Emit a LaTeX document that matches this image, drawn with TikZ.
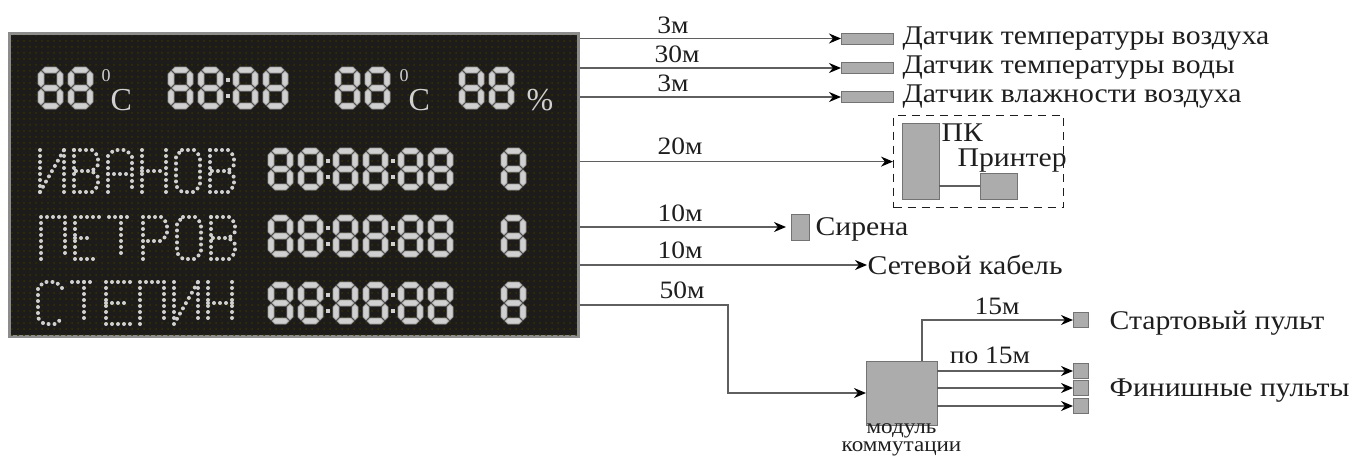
\documentclass[tikz,border=0pt]{standalone}
\usepackage{fontspec}
\setmainfont[FakeStretch=1.1]{Liberation Serif}
\newfontfamily\tablofont{Liberation Serif}
\usetikzlibrary{arrows.meta,positioning,calc,patterns}
\tikzset{every picture/.style={line width=0.6pt}}

\definecolor{panel}{RGB}{30,28,26}
\definecolor{rim}{RGB}{140,140,140}
\definecolor{segfill}{RGB}{208,208,208}
\definecolor{segline}{RGB}{150,150,150}
\definecolor{boxfill}{RGB}{172,172,172}
\definecolor{wirecol}{RGB}{95,95,95}
\definecolor{inkcol}{RGB}{30,30,30}

% семисегментная "8" и двоеточие
\tikzset{
  segment/.style={fill=segfill, draw=segline, line width=0.4pt},
  pics/seg8/.style={code={
    \foreach \sy in {3,21,39}
      \filldraw[segment] (4,\sy) -- (7,\sy-3) -- (18,\sy-3) -- (21,\sy) -- (18,\sy+3) -- (7,\sy+3) -- cycle;
    \foreach \sx in {3,22}
      \foreach \a/\b in {4/20, 22/38}
        \filldraw[segment] (\sx,\a) -- (\sx+3,\a+3) -- (\sx+3,\b-3) -- (\sx,\b) -- (\sx-3,\b-3) -- (\sx-3,\a+3) -- cycle;
  }},
  pics/segcolon/.style={code={
    \fill[segfill] (-2,11) rectangle (2,15);
    \fill[segfill] (-2,27) rectangle (2,31);
  }},
}

% точечные буквы
\newcommand{\dmI}{\draw[led] (0,0) -- (0,42); \draw[led] (24,0) -- (24,42); \draw[led] (0,42) -- (24,0);}
\newcommand{\dmV}{\draw[led] (0,0) -- (0,42) -- (18,42) -- (24,36) -- (24,27) -- (18,21) -- (0,21); \draw[led] (0,0) -- (18,0) -- (24,6) -- (24,15) -- (18,21);}
\newcommand{\dmA}{\draw[led] (0,42) -- (0,6) -- (6,0) -- (18,0) -- (24,6) -- (24,42); \draw[led] (0,24) -- (24,24);}
\newcommand{\dmN}{\draw[led] (0,0) -- (0,42); \draw[led] (24,0) -- (24,42); \draw[led] (0,21) -- (24,21);}
\newcommand{\dmO}{\draw[led] (6,0) -- (18,0) -- (24,6) -- (24,36) -- (18,42) -- (6,42) -- (0,36) -- (0,6) -- cycle;}
\newcommand{\dmP}{\draw[led] (0,42) -- (0,0) -- (24,0) -- (24,42);}
\newcommand{\dmE}{\draw[led] (24,0) -- (0,0) -- (0,42) -- (24,42); \draw[led] (0,21) -- (18,21);}
\newcommand{\dmT}{\draw[led] (0,0) -- (24,0); \draw[led] (12,0) -- (12,42);}
\newcommand{\dmR}{\draw[led] (0,42) -- (0,0) -- (18,0) -- (24,6) -- (24,18) -- (18,24) -- (0,24);}
\newcommand{\dmS}{\draw[led] (24,6) -- (18,0) -- (6,0) -- (0,6) -- (0,36) -- (6,42) -- (18,42) -- (24,36);}

\begin{document}
\begin{tikzpicture}[x=0.5pt, y=-0.5pt,
    wire/.style={draw=wirecol, line width=0.75pt},
    feed/.style={wire, -{Stealth[length=6pt, width=5pt, color=black]}},
    dev/.style={draw=black!55, fill=boxfill, line width=0.5pt, inner sep=0pt, outer sep=0pt},
    len/.style={font=\fontsize{12.5}{13}\selectfont, text=inkcol, inner sep=0pt, anchor=base},
    lbl/.style={font=\fontsize{13.5}{14}\selectfont, text=inkcol, inner sep=0pt, anchor=base west},
    led/.style={draw=segfill, line width=2pt, line cap=round, dash pattern=on 0pt off 3pt},
    tablotxt/.style={text=segfill, inner sep=0pt}]

    \useasboundingbox (0,0) rectangle (1360,461);

    % --- табло ---
    \node[draw=rim, line width=1.5pt, fill=panel, minimum width=284.5pt, minimum height=151.5pt,
          inner sep=0pt, anchor=north west] (tablo) at (8,32) {};
    \fill[pattern=dots, pattern color=black!60!olive] ([shift={(3,3)}]tablo.north west) rectangle ([shift={(-3,-3)}]tablo.south east);

    % верхняя строка: температура, время, вода, влажность
    \foreach \dx in {38,68,168,198,233,263,335,365,459,489}
        \pic at (\dx,67) {seg8};
    \pic at (228,67) {segcolon};
    \node[tablotxt, font=\tablofont\fontsize{9}{9}\selectfont, anchor=north west] (deg1) at (101,69) {0};
    \node[tablotxt, font=\tablofont\fontsize{16}{16}\selectfont, anchor=base west] (cel1) at (110,110) {C};
    \node[tablotxt, font=\tablofont\fontsize{9}{9}\selectfont, anchor=north west] (deg2) at (399,69) {0};
    \node[tablotxt, font=\tablofont\fontsize{16}{16}\selectfont, anchor=base west] (cel2) at (408,110) {C};
    \node[tablotxt, font=\tablofont\fontsize{16}{16}\selectfont, anchor=base west] (pct) at (526,110) {\%};

    % строки участников: время и номер
    \foreach \ry in {148,215,282} {
        \foreach \dx in {268,298,333,363,398,428,501}
            \pic at (\dx,\ry) {seg8};
        \foreach \cx in {328,393}
            \pic at (\cx,\ry) {segcolon};
    }

    % фамилии
    \foreach \ch [count=\k from 0] in {I,V,A,N,O,V} {
        \begin{scope}[shift={(40+34*\k,150)}] \csname dm\ch\endcsname \end{scope}
    }
    \foreach \ch [count=\k from 0] in {P,E,T,R,O,V} {
        \begin{scope}[shift={(41+34*\k,217)}] \csname dm\ch\endcsname \end{scope}
    }
    \foreach \ch [count=\k from 0] in {S,T,E,P,I,N} {
        \begin{scope}[shift={(38+34*\k,282)}] \csname dm\ch\endcsname \end{scope}
    }

    % --- датчики ---
    \node[dev, minimum width=26pt, minimum height=5.5pt, anchor=west] (sAir) at (841,38.5) {};
    \node[dev, minimum width=26pt, minimum height=5.5pt, anchor=west] (sWater) at (841,68) {};
    \node[dev, minimum width=26pt, minimum height=5.5pt, anchor=west] (sHum) at (841,97) {};
    \node[lbl] (tAir) at (902,44) {Датчик температуры воздуха};
    \node[lbl] (tWater) at (902,73) {Датчик температуры воды};
    \node[lbl] (tHum) at (902,102) {Датчик влажности воздуха};
    \draw[feed] (tablo.east |- sAir.west) -- (sAir.west);
    \draw[feed] (tablo.east |- sWater.west) -- (sWater.west);
    \draw[feed] (tablo.east |- sHum.west) -- (sHum.west);
    \node[len] (len1) at (673,33) {3м};
    \node[len] (len2) at (677,62) {30м};
    \node[len] (len3) at (673,91) {3м};

    % --- ПК и принтер ---
    \node[draw=inkcol, line width=0.6pt, dash pattern=on 4pt off 3pt, minimum width=85pt, minimum height=46pt,
          inner sep=0pt, anchor=north west] (pcgroup) at (893,115) {};
    \node[dev, minimum width=18.5pt, minimum height=38pt, anchor=north west] (pc) at (902,123) {};
    \node[dev, minimum width=18.5pt, minimum height=13pt, anchor=north west] (prn) at (980,173) {};
    \draw[wire] (pc.east |- prn.west) -- (prn.west);
    \node[lbl] (tPc) at (941,141) {ПК};
    \node[lbl] (tPrn) at (957,166) {Принтер};
    \draw[feed] (tablo.east |- pcgroup.west) -- (pcgroup.west);
    \node[len] (len4) at (680,154) {20м};

    % --- сирена и сеть ---
    \node[dev, minimum width=9pt, minimum height=13pt, anchor=west] (siren) at (791,227) {};
    \node[lbl] (tSiren) at (815,235) {Сирена};
    \draw[feed, shorten >=2.5pt] (tablo.east |- siren.west) -- (siren.west);
    \node[len] (len5) at (680,221) {10м};
    \node[lbl, anchor=west] (cable) at (867,265) {Сетевой кабель};
    \draw[feed] (tablo.east |- cable.west) -- (cable.west);
    \node[len] (len6) at (680,258) {10м};

    % --- модуль коммутации и пульты ---
    \coordinate (out7) at (tablo.east |- 0,305);
    \node[dev, minimum width=35.5pt, minimum height=32pt, anchor=north west] (kmod) at (866,361) {};
    \draw[feed] (out7) -- ++(148,0) |- (kmod.west);
    \node[len] (len7) at (682,298) {50м};
    \node[len, anchor=north, align=center, font=\fontsize{10.5}{9}\selectfont] (tMod) at ([yshift=1pt]kmod.south) {модуль\\коммутации};

    \node[dev, minimum width=7.5pt, minimum height=7.5pt, anchor=west] (start) at (1073,320) {};
    \draw[feed] ($(kmod.north west)+(56,0)$) |- (start.west);
    \node[len] (len8) at (997,314) {15м};
    \node[lbl] (tStart) at (1109,329) {Стартовый пульт};

    \foreach \fy/\nm in {371/fin1, 388/fin2, 406/fin3} {
        \node[dev, minimum width=7.5pt, minimum height=7.5pt, anchor=west] (\nm) at (1073,\fy) {};
        \draw[feed] (kmod.east |- \nm.west) -- (\nm.west);
    }
    \node[len] (len9) at (990,363) {по 15м};
    \node[lbl] (tFin) at (1109,396) {Финишные пульты};

\end{tikzpicture}
\end{document}
